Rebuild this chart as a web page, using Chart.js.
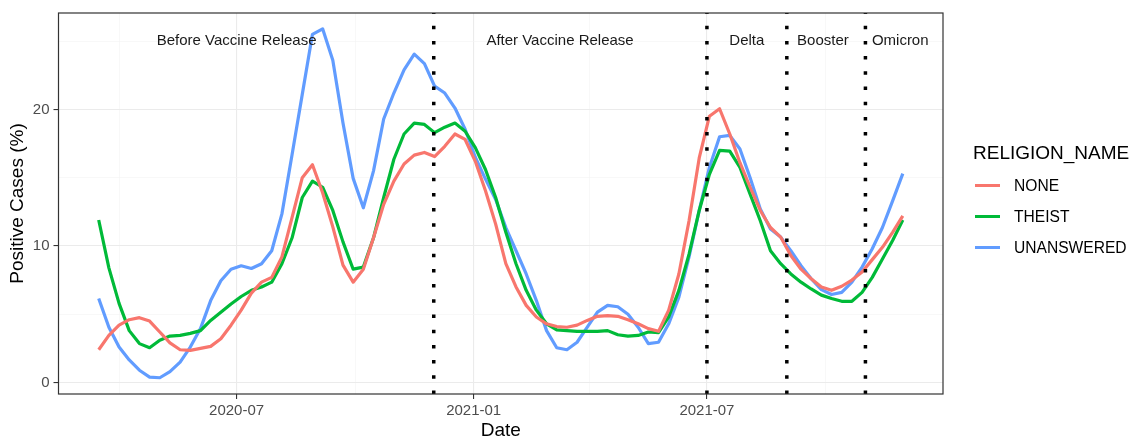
<!DOCTYPE html>
<html>
<head>
<meta charset="utf-8">
<title>Positive Cases by Religion</title>
<script src="https://cdn.jsdelivr.net/npm/chart.js@4.4.1/dist/chart.umd.min.js"></script>
<style>
  html, body { margin: 0; padding: 0; background: #fff; }
  #wrap { position: relative; width: 1141px; height: 440px; font-family: "Liberation Sans", Arial, sans-serif; }
  #chart { position: absolute; left: 0; top: 0; }
  .lg-title { position: absolute; left: 973px; top: 143.4px; font-size: 19px; line-height: 19px; color: #000; white-space: nowrap; }
  .lg-key { position: absolute; left: 975px; width: 25px; height: 3px; }
  .lg-label { position: absolute; left: 1014px; font-size: 15.6px; line-height: 15.6px; color: #000; white-space: nowrap; }
</style>
</head>
<body>
<div id="wrap">
  <canvas id="chart" width="1141" height="440"></canvas>
  <div id="legend"></div>
</div>
<script>
// smoothed curves, 80 evenly spaced points between these two dates
const firstDate = "2020-03-16";
const lastDate = "2021-11-30";

const seriesNames = ["NONE", "THEIST", "UNANSWERED"];
const seriesColors = ["#F8766D", "#00BA38", "#619CFF"];

const noneValues = [
  2.4, 3.45, 4.2, 4.6, 4.75, 4.5, 3.7, 2.9, 2.4, 2.35,
  2.5, 2.65, 3.2, 4.2, 5.3, 6.55, 7.35, 7.7, 9.2, 12.1,
  15.0, 15.95, 13.9, 11.4, 8.6, 7.35, 8.3, 10.6, 13.05, 14.75,
  16.0, 16.65, 16.85, 16.55, 17.3, 18.2, 17.8, 16.2, 14.05, 11.6,
  8.7, 7.0, 5.65, 4.8, 4.3, 4.1, 4.05, 4.2, 4.55, 4.85,
  4.9, 4.85, 4.6, 4.3, 3.95, 3.75, 5.3, 7.95, 11.85, 16.45,
  19.5, 20.05, 18.2, 16.1, 14.3, 12.6, 11.35, 10.65, 9.3, 8.3,
  7.6, 7.0, 6.75, 7.05, 7.5, 8.1, 9.0, 9.9, 11.0, 12.2
];
const theistValues = [
  11.9, 8.4, 5.8, 3.8, 2.85, 2.55, 3.1, 3.4, 3.45, 3.6,
  3.8, 4.55, 5.15, 5.75, 6.3, 6.75, 7.0, 7.35, 8.7, 10.6,
  13.55, 14.75, 14.3, 12.6, 10.3, 8.3, 8.45, 10.6, 13.55, 16.35,
  18.2, 19.0, 18.9, 18.3, 18.7, 19.0, 18.4, 17.2, 15.6, 13.55,
  11.0, 8.7, 6.75, 5.3, 4.3, 3.85, 3.8, 3.75, 3.75, 3.75,
  3.8, 3.5, 3.4, 3.45, 3.7, 3.65, 4.8, 6.75, 9.4, 12.6,
  15.25, 17.0, 16.95, 15.75, 13.8, 11.85, 9.65, 8.7, 7.95, 7.35,
  6.85, 6.4, 6.15, 5.95, 5.95, 6.6, 7.7, 9.05, 10.4, 11.9
];
const unansweredValues = [
  6.15, 4.05, 2.6, 1.65, 0.9, 0.4, 0.35, 0.8, 1.5, 2.6,
  3.95, 6.0, 7.45, 8.3, 8.55, 8.35, 8.7, 9.65, 12.35, 16.7,
  21.1, 25.5, 25.9, 23.6, 19.0, 14.95, 12.8, 15.5, 19.3, 21.2,
  22.9, 24.05, 23.35, 21.7, 21.2, 20.1, 18.55, 16.5, 14.9, 13.4,
  11.35, 9.65, 7.95, 6.0, 3.8, 2.55, 2.4, 2.95, 4.05, 5.15,
  5.65, 5.55, 5.0, 4.05, 2.85, 2.95, 4.3, 6.25, 9.2, 12.6,
  15.75, 18.0, 18.1, 17.1, 15.0, 12.7, 11.25, 10.65, 9.65, 8.55,
  7.6, 6.8, 6.45, 6.6, 7.35, 8.45, 9.8, 11.35, 13.3, 15.3
];

const xTickDates = ["2020-04-01", "2020-07-01", "2020-10-01", "2021-01-01", "2021-04-01", "2021-07-01", "2021-10-01"];
const xTickLabels = ["", "2020-07", "", "2021-01", "", "2021-07", ""];
const yTickValues = [0, 5, 10, 15, 20, 25];
const yTickLabels = ["0", "", "10", "", "20", ""];

const phaseLineDates = ["2020-12-01", "2021-07-01", "2021-09-01", "2021-11-01"];
const phaseNames = ["Before Vaccine Release", "After Vaccine Release", "Delta", "Booster", "Omicron"];
const phaseLabelDates = ["2020-07-01", "2021-03-09", "2021-08-01", "2021-09-29", "2021-11-28"];
const phaseLabelY = 25;

const FONT = '"Liberation Sans", Arial, sans-serif';

// days since 2020-01-01
function dayNum(s) {
    return (Date.parse(s + "T00:00:00Z") - Date.UTC(2020, 0, 1)) / 86400000;
}

const startDay = dayNum(firstDate);
const endDay = dayNum(lastDate);
const allSeries = [noneValues, theistValues, unansweredValues];

function toPoints(values) {
    const step = (endDay - startDay) / (values.length - 1);
    return values.map((v, i) => ({ x: startDay + i * step, y: v }));
}

const span = endDay - startDay;

const panelDecor = {
    id: "panelDecor",
    afterDatasetsDraw(chart) {
        const { ctx, chartArea: a, scales: { x, y } } = chart;
        ctx.save();

        ctx.strokeStyle = "#000";
        ctx.lineWidth = 3.5;
        ctx.setLineDash([3.5, 11.7]);
        phaseLineDates.forEach(d => {
            const px = x.getPixelForValue(dayNum(d));
            ctx.beginPath();
            ctx.moveTo(px, a.bottom);
            ctx.lineTo(px, a.top);
            ctx.stroke();
        });
        ctx.setLineDash([]);

        ctx.fillStyle = "#1a1a1a";
        ctx.font = "15px " + FONT;
        ctx.textAlign = "center";
        ctx.textBaseline = "middle";
        phaseNames.forEach((t, i) => {
            ctx.fillText(t, x.getPixelForValue(dayNum(phaseLabelDates[i])), y.getPixelForValue(phaseLabelY));
        });

        ctx.strokeStyle = "#333333";
        ctx.lineWidth = 1.2;
        ctx.strokeRect(a.left, a.top, a.right - a.left, a.bottom - a.top);
        ctx.restore();
    }
};

function gridColor(labels) {
    return c => (labels[c.index] ? "#EBEBEB" : "#F4F4F4");
}
function gridWidth(labels) {
    return c => (labels[c.index] ? 1.1 : 0.6);
}
function tickColor(labels) {
    return c => (labels[c.index] ? "#333333" : "rgba(0,0,0,0)");
}

new Chart(document.getElementById("chart"), {
    type: "line",
    data: {
        datasets: seriesNames.map((name, i) => ({
            label: name,
            data: toPoints(allSeries[i]),
            borderColor: seriesColors[i],
            borderWidth: 3.2,
            borderJoinStyle: "round",
            pointRadius: 0,
            tension: 0,
            fill: false
        }))
    },
    options: {
        responsive: false,
        animation: false,
        devicePixelRatio: 1,
        layout: { padding: { top: 11.5, right: 198, bottom: 0, left: 0 } },
        plugins: {
            legend: { display: false },
            tooltip: { enabled: false }
        },
        scales: {
            x: {
                type: "linear",
                min: startDay - 0.05 * span,
                max: endDay + 0.05 * span,
                afterBuildTicks: s => { s.ticks = xTickDates.map(d => ({ value: dayNum(d) })); },
                afterFit: s => { s.height = 46; },
                ticks: {
                    autoSkip: false,
                    maxRotation: 0,
                    padding: 2.5,
                    color: "#4D4D4D",
                    font: { family: FONT, size: 15 },
                    callback: (v, i) => xTickLabels[i]
                },
                grid: {
                    color: gridColor(xTickLabels),
                    lineWidth: gridWidth(xTickLabels),
                    tickColor: tickColor(xTickLabels),
                    tickLength: 5
                },
                border: { display: false },
                title: {
                    display: true,
                    text: "Date",
                    color: "#000",
                    font: { family: FONT, size: 19, lineHeight: 1 },
                    padding: 0
                }
            },
            y: {
                min: -0.84,
                max: 27.06,
                afterBuildTicks: s => { s.ticks = yTickValues.map(v => ({ value: v })); },
                afterFit: s => { s.width = 58.5; },
                ticks: {
                    padding: 4,
                    color: "#4D4D4D",
                    font: { family: FONT, size: 15 },
                    callback: (v, i) => yTickLabels[i]
                },
                grid: {
                    color: gridColor(yTickLabels),
                    lineWidth: gridWidth(yTickLabels),
                    tickColor: tickColor(yTickLabels),
                    tickLength: 5
                },
                border: { display: false },
                title: {
                    display: true,
                    text: "Positive Cases (%)",
                    color: "#000",
                    font: { family: FONT, size: 19, lineHeight: 1 },
                    padding: { top: 8, bottom: 0 }
                }
            }
        }
    },
    plugins: [panelDecor]
});

// legend
const legend = document.getElementById("legend");
const title = document.createElement("div");
title.className = "lg-title";
title.textContent = "RELIGION_NAME";
legend.appendChild(title);
seriesNames.forEach((name, i) => {
    const key = document.createElement("div");
    key.className = "lg-key";
    key.style.top = (184.2 + i * 30.7) + "px";
    key.style.background = seriesColors[i];
    legend.appendChild(key);
    const label = document.createElement("div");
    label.className = "lg-label";
    label.style.top = (178.4 + i * 30.7) + "px";
    label.textContent = name;
    legend.appendChild(label);
});
</script>
</body>
</html>
